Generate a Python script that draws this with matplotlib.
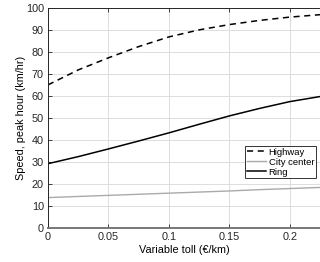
import matplotlib
matplotlib.use('Agg')
import matplotlib.pyplot as plt

# data
toll = [0, 0.025, 0.05, 0.075, 0.1, 0.125, 0.15, 0.175, 0.2, 0.225]
highway = [65.0, 71.8, 77.3, 82.4, 86.8, 90.0, 92.4, 94.3, 95.8, 96.9]
city_center = [13.8, 14.3, 14.8, 15.3, 15.8, 16.3, 16.8, 17.4, 17.9, 18.4]
ring = [29.2, 32.4, 35.9, 39.5, 43.2, 47.1, 50.9, 54.3, 57.4, 59.7]

plt.rcParams['font.family'] = ['Liberation Sans', 'DejaVu Sans']
plt.rcParams['font.size'] = 7.8

fig = plt.figure(figsize=(3.2, 2.62), dpi=100)
ax = fig.add_axes([0.15, 0.13, 0.85, 0.84])

ax.plot(toll, highway, '--', color='black', lw=1.1, dashes=(4, 3), label='Highway')
ax.plot(toll, city_center, '-', color='#aaaaaa', lw=1.0, label='City center')
ax.plot(toll, ring, '-', color='black', lw=1.1, label='Ring')

ax.set_xlim(0, 0.225)
ax.set_ylim(0, 100)
ax.set_xticks([0, 0.05, 0.1, 0.15, 0.2])
ax.set_xticklabels(['0', '0.05', '0.1', '0.15', '0.2'])
ax.set_yticks(range(0, 101, 10))
ax.grid(True, color='#dddddd', lw=0.7)
ax.set_axisbelow(True)
ax.tick_params(direction='in', length=3, width=0.6, colors='#262626', top=True, pad=3)
for s in ['left', 'top', 'bottom']:
    ax.spines[s].set_color('#262626')
    ax.spines[s].set_linewidth(0.7)
ax.spines['bottom'].set_color('#777777')
ax.spines['bottom'].set_linewidth(1.4)
ax.spines['right'].set_visible(False)

ax.set_xlabel('Variable toll (€/km)', labelpad=2)
ax.set_ylabel('Speed, peak hour (km/hr)', labelpad=0)

leg = ax.legend(loc='lower right', bbox_to_anchor=(0.985, 0.225), fontsize=6.8,
                frameon=True, fancybox=False, edgecolor='black', handlelength=2.0,
                handletextpad=0.3, borderpad=0.2, labelspacing=0.1, borderaxespad=0)
leg.get_frame().set_linewidth(0.7)

fig.savefig('out.png', dpi=100)
